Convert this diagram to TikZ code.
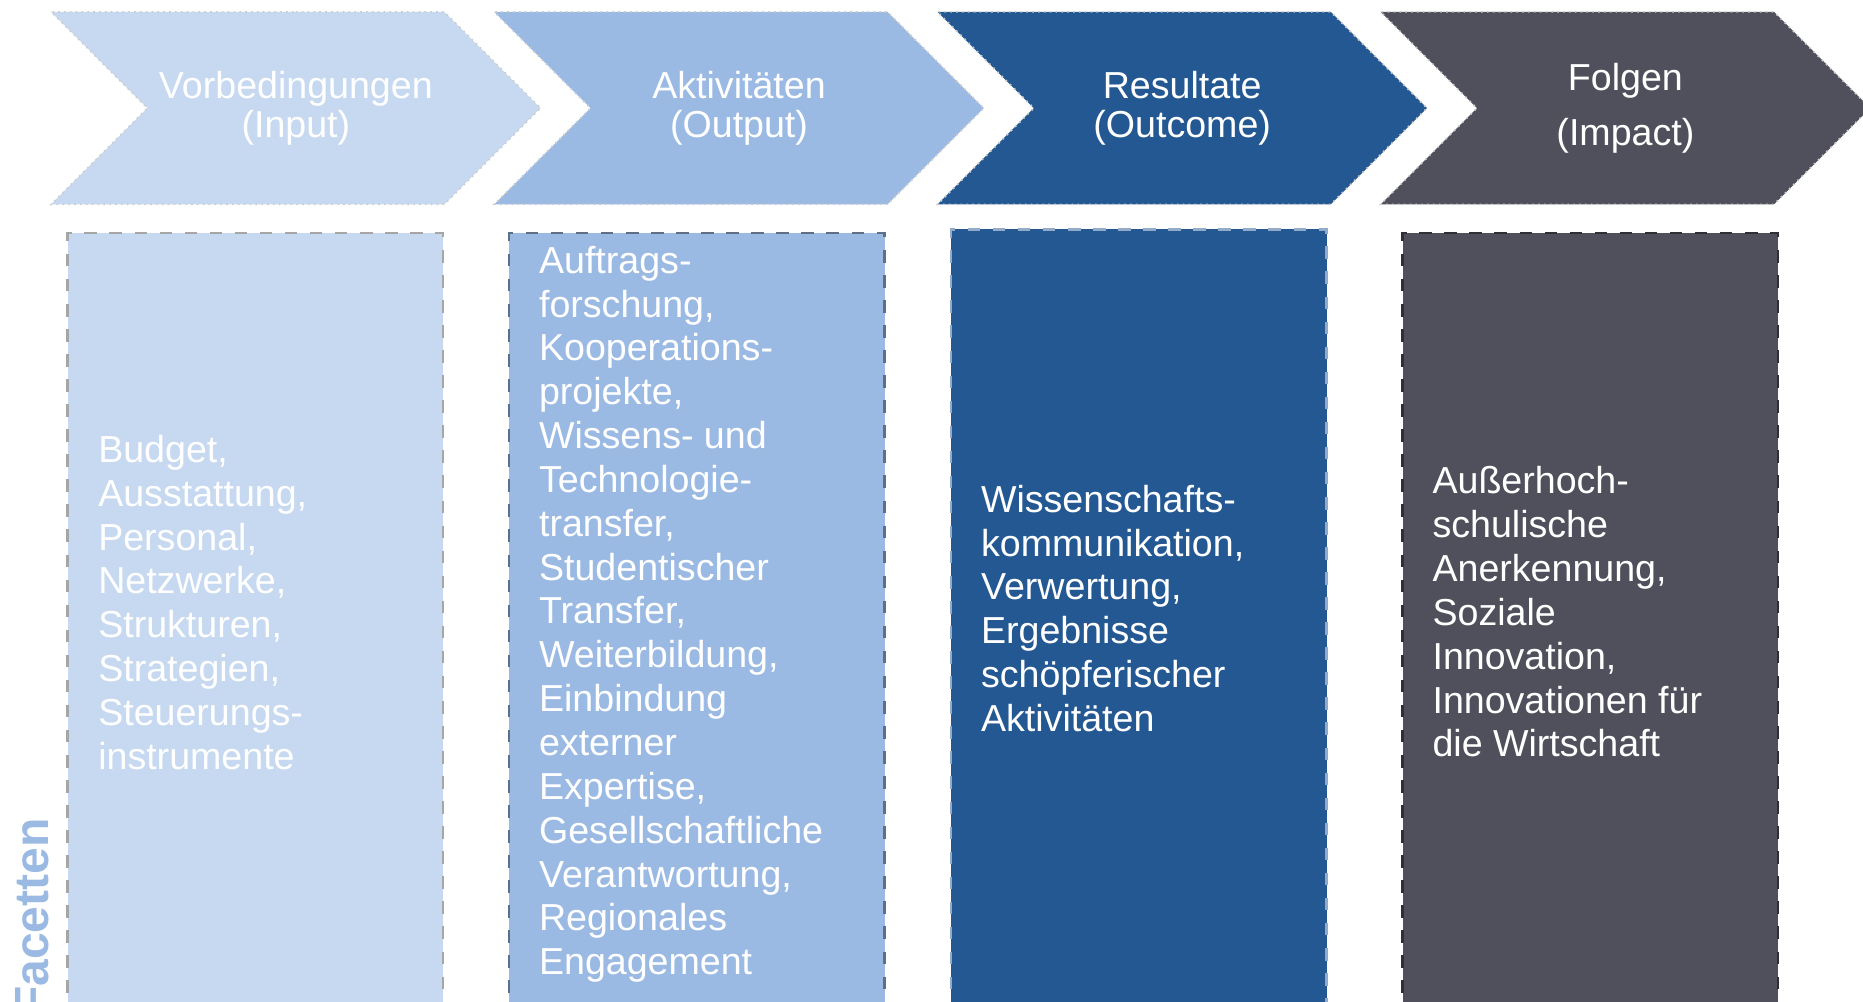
\documentclass[tikz,border=0pt]{standalone}
\usepackage{fontspec}
\setmainfont{Liberation Sans}
\usetikzlibrary{shapes.symbols}

\definecolor{inputblue}{HTML}{C6D9F0}
\definecolor{outputblue}{HTML}{9BBAE3}
\definecolor{outcomeblue}{HTML}{245892}
\definecolor{impactgray}{HTML}{4F505C}

\begin{document}
\begin{tikzpicture}[y=-1cm,
    phase/.style = {signal, signal from=west, signal to=east, signal pointer angle=90,
        minimum width=4.12cm, minimum height=1.62cm, inner sep=0pt,
        draw=black!20, densely dotted, text=white, align=center,
        font=\fontsize{9}{9.2}\selectfont},
    facet/.style = {rectangle, minimum width=3.16cm, minimum height=7cm, anchor=north,
        dashed, line width=0.6pt},
    facettext/.style = {anchor=west, align=left, text=white, inner sep=0pt,
        font=\fontsize{9}{10.5}\selectfont}]
    \useasboundingbox (0,0) rectangle (15.68,8.425);

    \node[phase, fill=inputblue] (1) at (2.49,0.91) {Vorbedingungen\\(Input)};
    \node[phase, fill=outputblue] (2) at (6.22,0.91) {Aktivitäten\\(Output)};
    \node[phase, fill=outcomeblue] (3) at (9.95,0.91) {Resultate\\(Outcome)};
    \node[phase, fill=impactgray] (4) at (13.68,0.91) {Folgen\\[3.9pt](Impact)};

    \node[facet, fill=inputblue, draw=black!35] (b1) at (2.15,1.95) {};
    \node[facet, fill=outputblue, draw=outputblue!60!black] (b2) at (5.865,1.95) {};
    \node[facet, fill=outcomeblue, draw=outcomeblue!50!white] (b3) at (9.585,1.92) {};
    \node[facet, fill=impactgray, draw=impactgray!60!black] (b4) at (13.385,1.95) {};

    \node[facettext] (t1) at (0.82,5.07) {Budget,\\Ausstattung,\\Personal,\\Netzwerke,\\Strukturen,\\Strategien,\\Steuerungs-\\instrumente};
    \node[facettext] (t2) at (4.53,5.17) {Auftrags-\\forschung,\\Kooperations-\\projekte,\\Wissens- und\\Technologie-\\transfer,\\Studentischer\\Transfer,\\Weiterbildung,\\Einbindung\\externer\\Expertise,\\Gesellschaftliche\\Verantwortung,\\Regionales\\Engagement};
    \node[facettext] (t3) at (8.25,5.12) {Wissenschafts-\\kommunikation,\\Verwertung,\\Ergebnisse\\schöpferischer\\Aktivitäten};
    \node[facettext] (t4) at (12.05,5.15) {Außerhoch-\\schulische\\Anerkennung,\\Soziale\\Innovation,\\Innovationen für\\die Wirtschaft};

    \node[rotate=90, anchor=east, text=outputblue, inner sep=0pt,
        font=\fontsize{11.5}{12}\selectfont\bfseries] (f) at (0.27,6.88) {Facetten};
\end{tikzpicture}
\end{document}
